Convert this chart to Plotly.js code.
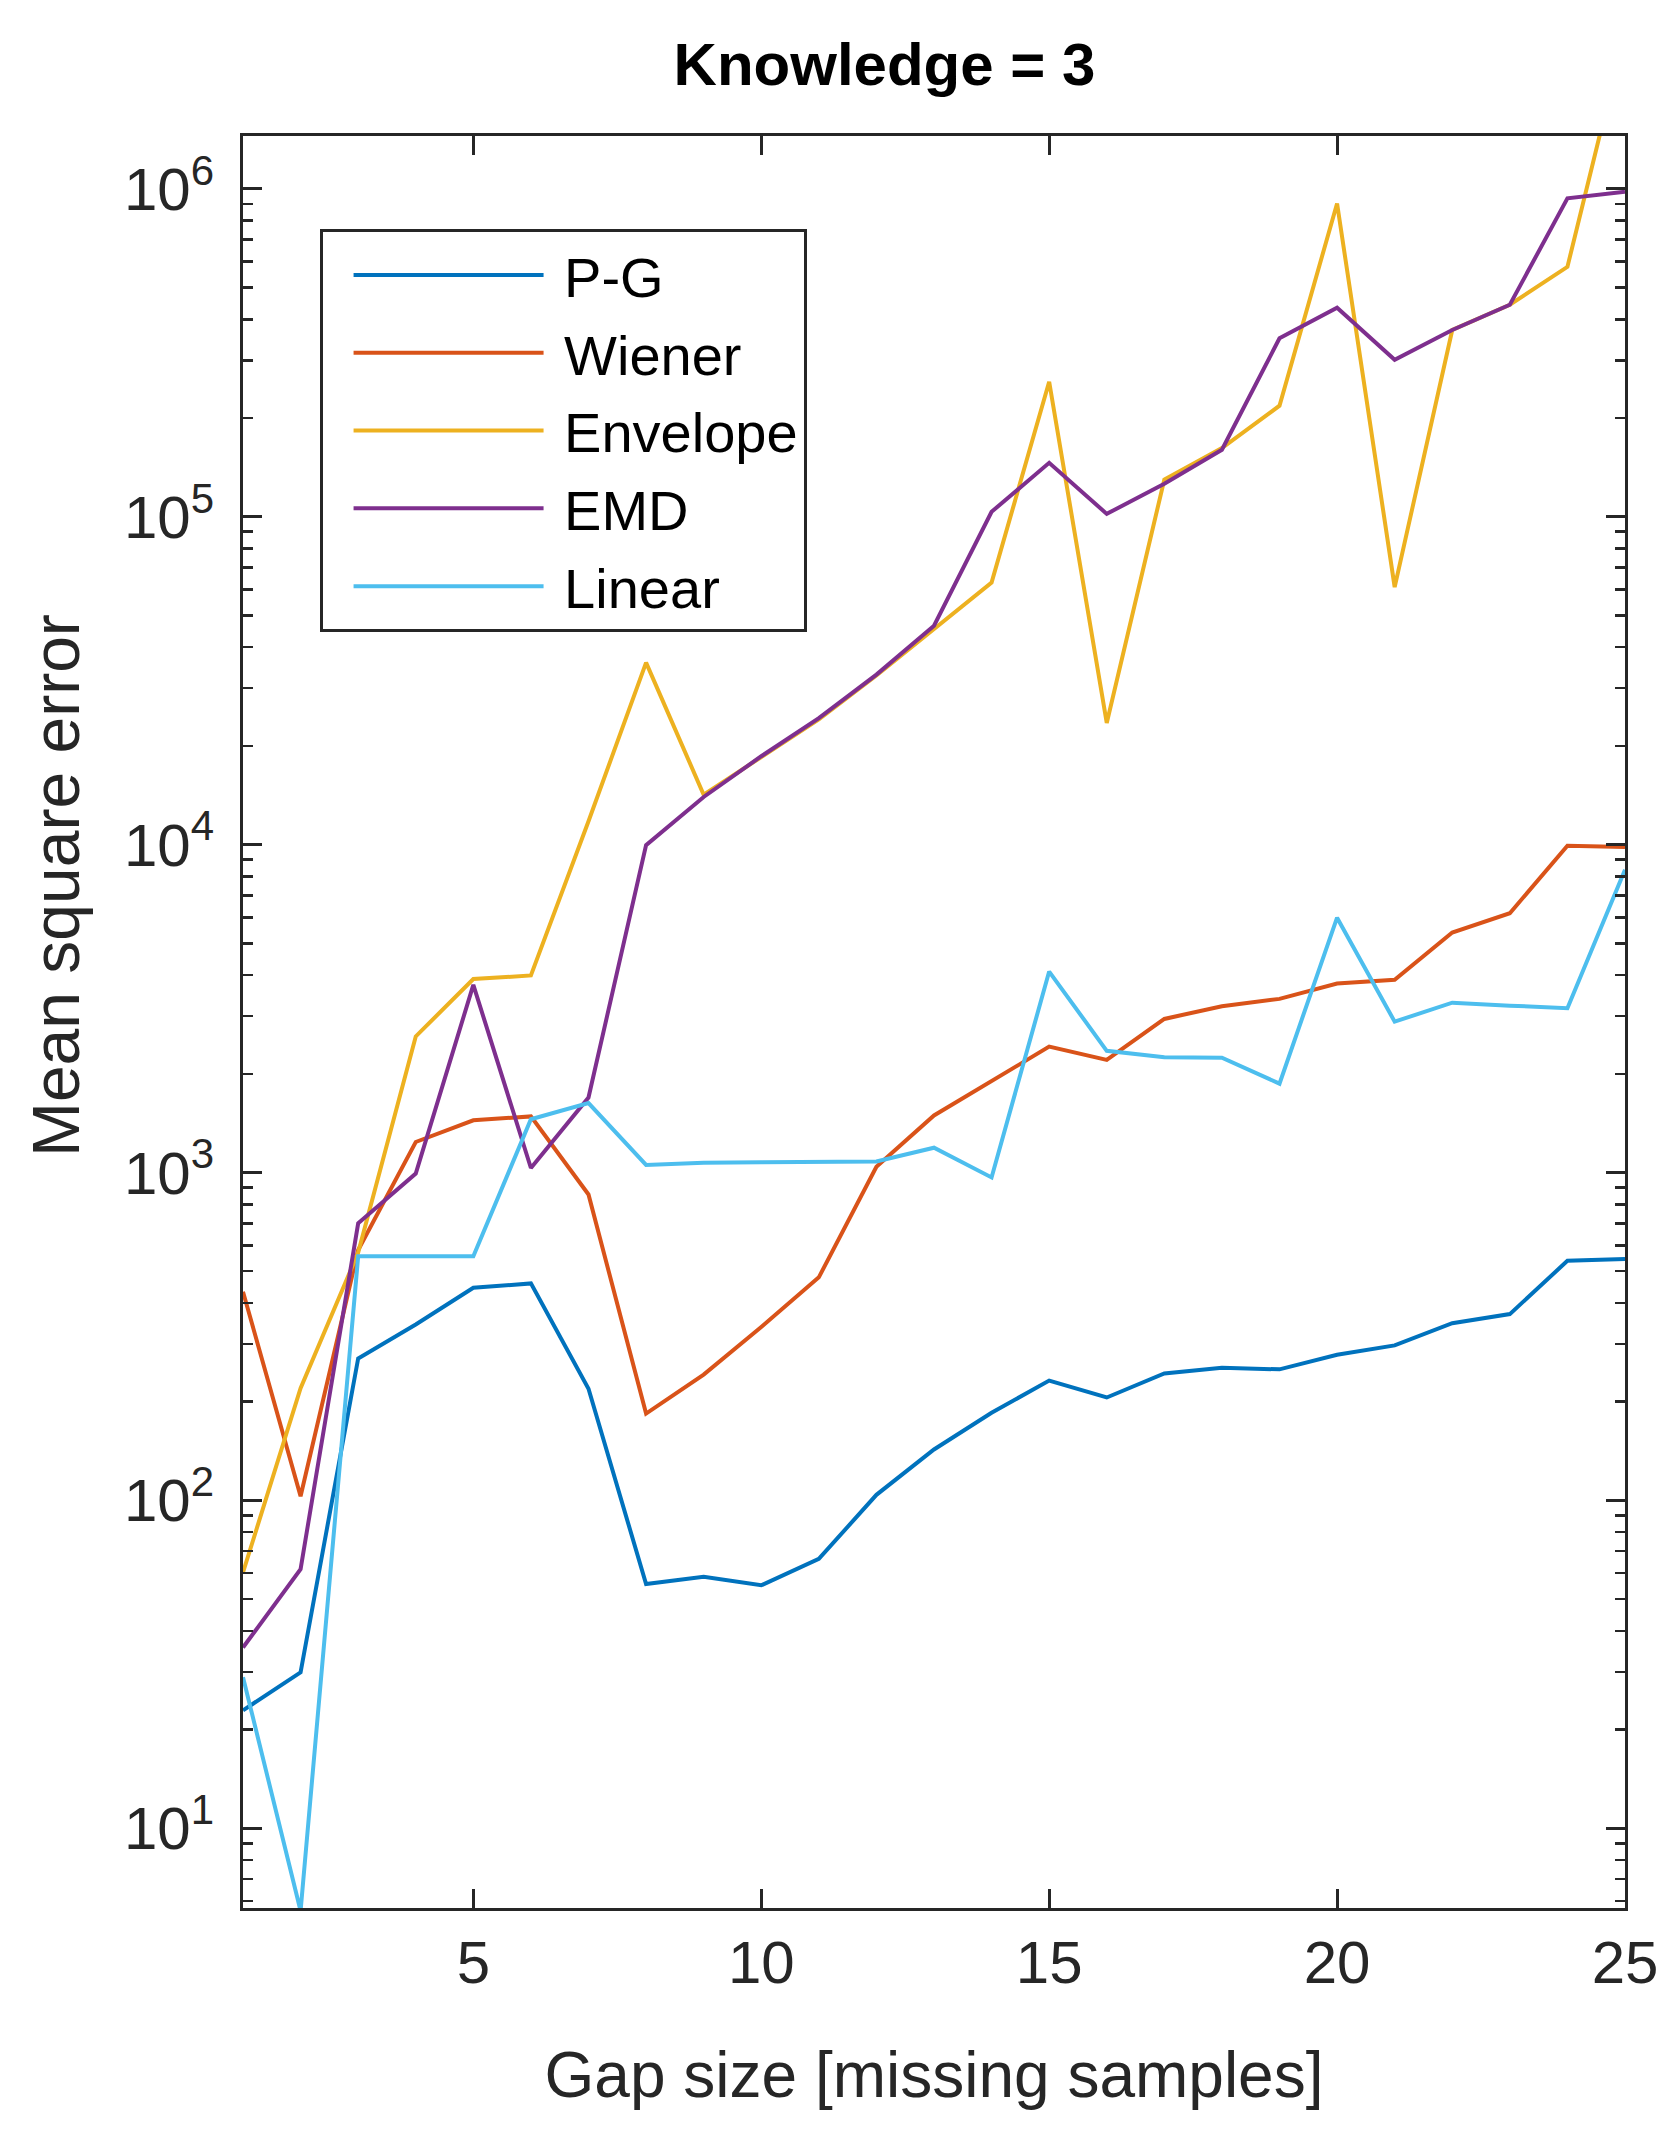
<!DOCTYPE html>
<html>
<head>
<meta charset="utf-8">
<script src="https://cdn.plot.ly/plotly-3.0.1.min.js"></script>
<style>
  html, body { margin: 0; padding: 0; background: #ffffff; }
  #plot { width: 1672px; height: 2134px; }
</style>
</head>
<body>
<div id="plot"></div>
<script>
// gap size axis (missing samples)
const gapSize = [1, 2, 3, 4, 5, 6, 7, 8, 9, 10, 11, 12, 13, 14, 15, 16, 17, 18, 19, 20, 21, 22, 23, 24, 25];

// mean square error per method
const pg = [22.9, 29.9, 271, 344, 445, 459, 219, 55.6, 58.5, 55.1, 66.3, 104, 143, 185, 232,
  206, 244, 254, 251, 278, 297, 347, 370, 538, 545];
const wiener = [433, 103, 580, 1239, 1443, 1483, 857, 184, 242, 338, 479, 1041, 1493, 1900, 2420,
  2205, 2940, 3215, 3385, 3772, 3873, 5392, 6178, 9920, 9840];
const envelope = [60.3, 220, 570, 2600, 3890, 3990, 11780, 35900, 14190, 18500, 24100, 32800, 45400, 63000, 258000,
  23500, 129800, 162000, 218000, 902000, 61000, 371000, 443000, 578000, 3000000];
const emd = [35.6, 61.7, 700, 993, 3735, 1032, 1693, 9960, 13970, 18600, 24300, 33000, 46500, 103500, 146000,
  102000, 126000, 160000, 350000, 434000, 301000, 371000, 443000, 935000, 980000];
const linear = [28.9, 5.6, 555, 555, 555, 1454, 1629, 1055, 1070, 1075, 1075, 1080, 1190, 966, 4100,
  2350, 2248, 2240, 1866, 5986, 2884, 3296, 3228, 3170, 8375];

const seriesNames = ["P-G", "Wiener", "Envelope", "EMD", "Linear"];
const seriesValues = [pg, wiener, envelope, emd, linear];
const seriesColors = ["#0072BD", "#D95319", "#EDB120", "#7E2F8E", "#4DBEEE"];

const xTickVals = [5, 10, 15, 20, 25];
const yTickVals = [10, 100, 1000, 10000, 100000, 1000000];
const yTickText = ["10<sup>1</sup>", "10<sup>2</sup>", "10<sup>3</sup>", "10<sup>4</sup>", "10<sup>5</sup>", "10<sup>6</sup>"];

const axisColor = "#262626";
const tickFont = { family: "Liberation Sans, Arial, sans-serif", size: 60, color: axisColor };

// each trace in its own legend group so tracegroupgap can space the rows
const traces = seriesNames.map((name, i) => ({
  type: "scatter",
  mode: "lines",
  name: "\u00a0" + name,
  legendgroup: "g" + i,
  x: gapSize,
  y: seriesValues[i],
  line: { color: seriesColors[i], width: 4 },
  hoverinfo: "skip"
}));

const layout = {
  width: 1672,
  height: 2134,
  margin: { l: 243, r: 47, t: 136, b: 226 },
  paper_bgcolor: "#ffffff",
  plot_bgcolor: "#ffffff",
  showlegend: true,
  title: {
    text: "<b>Knowledge = 3</b>",
    font: { family: "Liberation Sans, Arial, sans-serif", size: 60, color: "#000000" },
    x: 0.529,
    xanchor: "center",
    y: 0.970,
    yanchor: "middle"
  },
  xaxis: {
    type: "linear",
    range: [1, 25],
    tickmode: "array",
    tickvals: xTickVals,
    ticks: "inside",
    ticklen: 19,
    tickwidth: 3,
    tickcolor: axisColor,
    showline: true,
    linecolor: axisColor,
    linewidth: 3,
    mirror: "allticks",
    showgrid: false,
    zeroline: false,
    tickfont: tickFont,
    ticklabelstandoff: 0,
    title: {
      text: "Gap size [missing samples]",
      font: { family: "Liberation Sans, Arial, sans-serif", size: 64, color: axisColor },
      standoff: 58
    },
    automargin: false
  },
  yaxis: {
    type: "log",
    range: [0.757, 6.161],
    tickmode: "array",
    tickvals: yTickVals,
    ticktext: yTickText,
    ticks: "inside",
    ticklen: 19,
    tickwidth: 3,
    tickcolor: axisColor,
    minor: {
      ticks: "inside",
      dtick: "D1",
      ticklen: 10,
      tickwidth: 2.5,
      tickcolor: axisColor,
      showgrid: false
    },
    showline: true,
    linecolor: axisColor,
    linewidth: 3,
    mirror: "allticks",
    showgrid: false,
    zeroline: false,
    tickfont: tickFont,
    ticklabelstandoff: 14,
    automargin: false
  },
  legend: {
    x: 0.0554,
    y: 0.9475,
    xanchor: "left",
    yanchor: "top",
    bgcolor: "#ffffff",
    bordercolor: axisColor,
    borderwidth: 3,
    itemwidth: 190,
    indentation: 26,
    traceorder: "grouped",
    tracegroupgap: 2,
    font: { family: "Liberation Sans, Arial, sans-serif", size: 56, color: "#000000" }
  },
  annotations: [{
    text: "Mean square error",
    textangle: -90,
    xref: "paper",
    yref: "paper",
    x: -0.1353,
    y: 0.5767,
    xanchor: "center",
    yanchor: "middle",
    showarrow: false,
    font: { family: "Liberation Sans, Arial, sans-serif", size: 66, color: axisColor }
  }]
};

const config = {
  displayModeBar: false,
  staticPlot: true
};

Plotly.newPlot("plot", traces, layout, config);
</script>
</body>
</html>
